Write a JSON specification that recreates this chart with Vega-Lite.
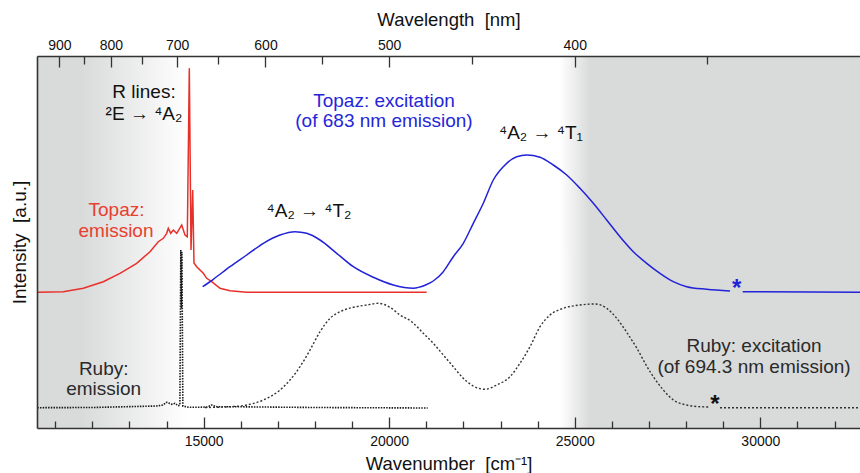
{
  "$schema": "https://vega.github.io/schema/vega-lite/v6.json",
  "width": 823,
  "height": 372,
  "autosize": {"type": "none"},
  "padding": {"left": 37, "top": 56, "right": 0, "bottom": 45},
  "background": "white",
  "config": {
    "font": "Liberation Sans",
    "view": {"stroke": "transparent"},
    "axis": {
      "labelFont": "Liberation Sans", "titleFont": "Liberation Sans",
      "labelFontSize": 14, "labelColor": "#111",
      "titleFontSize": 18.5, "titleFontWeight": "normal", "titleColor": "#111",
      "tickColor": "#333", "tickWidth": 1.3, "domain": false, "grid": false,
      "labelFlush": false, "labelOverlap": false,
      "domainColor": "#333", "domainWidth": 1.6
    }
  },
  "datasets": {
    "red": [
      {"k":10518,"v":135.7},{"k":11219,"v":136.3},{"k":11758,"v":139.7},{"k":12296,"v":146.3},{"k":12746,"v":154.7},{"k":13196,"v":164.7},{"k":13555,"v":176.3},{"k":13778,"v":186.3},{"k":13913,"v":189.7},{"k":14005,"v":194.7},{"k":14048,"v":199.7},{"k":14113,"v":194.7},{"k":14183,"v":198},{"k":14274,"v":194.7},{"k":14409,"v":203},{"k":14498,"v":193},{"k":14560,"v":191.3},{"k":14614,"v":359.7},{"k":14660,"v":178},{"k":14705,"v":238},{"k":14740,"v":165},{"k":14813,"v":161.3},{"k":14991,"v":154.7},{"k":15083,"v":149.7},{"k":15217,"v":146.3},{"k":15441,"v":139.7},{"k":15710,"v":137.3},{"k":16160,"v":135.7},{"k":21010,"v":135.7}
    ],
    "blue": [
      {"k":14975,"v":141.3,"seg":1},{"k":15260,"v":148.7,"seg":1},{"k":15710,"v":161.3,"seg":1},{"k":16160,"v":173,"seg":1},{"k":16608,"v":184.7,"seg":1},{"k":17058,"v":193,"seg":1},{"k":17462,"v":196.3,"seg":1},{"k":17777,"v":194.7,"seg":1},{"k":18136,"v":188,"seg":1},{"k":18586,"v":174.7,"seg":1},{"k":19033,"v":161.3,"seg":1},{"k":19572,"v":150.7,"seg":1},{"k":20110,"v":143,"seg":1},{"k":20649,"v":139.7,"seg":1},{"k":20828,"v":141,"seg":1},{"k":21010,"v":143.5,"seg":1},{"k":21188,"v":147,"seg":1},{"k":21458,"v":156.3,"seg":1},{"k":21727,"v":171.3,"seg":1},{"k":21997,"v":184.7,"seg":1},{"k":22266,"v":204.7,"seg":1},{"k":22536,"v":224.7,"seg":1},{"k":22805,"v":248,"seg":1},{"k":23075,"v":261.3,"seg":1},{"k":23436,"v":271.3,"seg":1},{"k":23705,"v":273,"seg":1},{"k":24064,"v":270.7,"seg":1},{"k":24422,"v":263,"seg":1},{"k":24783,"v":253,"seg":1},{"k":25141,"v":239.7,"seg":1},{"k":25500,"v":224.7,"seg":1},{"k":25861,"v":208,"seg":1},{"k":26219,"v":191.3,"seg":1},{"k":26578,"v":176.3,"seg":1},{"k":26938,"v":164.7,"seg":1},{"k":27296,"v":154.7,"seg":1},{"k":27655,"v":146.3,"seg":1},{"k":28016,"v":141.3,"seg":1},{"k":28555,"v":138.7,"seg":1},{"k":29183,"v":137,"seg":1},
      {"k":29525,"v":136.3,"seg":2},{"k":32686,"v":135.7,"seg":2}
    ],
    "rubyEm": [
      {"k":10518,"v":20.3},{"k":12000,"v":20.5},{"k":13735,"v":22},{"k":13900,"v":23},{"k":14005,"v":25.7},{"k":14140,"v":23.7},{"k":14228,"v":24.7},{"k":14317,"v":22.3},{"k":14360,"v":23},{"k":14385,"v":178},{"k":14400,"v":120},{"k":14415,"v":176},{"k":14440,"v":22},{"k":14600,"v":20.7},{"k":14813,"v":20.7},{"k":15100,"v":21},{"k":15217,"v":23},{"k":15352,"v":21.3},{"k":15710,"v":21.3},{"k":18000,"v":20.5},{"k":21037,"v":20}
    ],
    "rubyEx": [
      {"k":15037,"v":20.5,"seg":1},{"k":15710,"v":21.3,"seg":1},{"k":16160,"v":23,"seg":1},{"k":16608,"v":28,"seg":1},{"k":17058,"v":38,"seg":1},{"k":17327,"v":48,"seg":1},{"k":17597,"v":61.3,"seg":1},{"k":17866,"v":78,"seg":1},{"k":18136,"v":96.3,"seg":1},{"k":18405,"v":109.7,"seg":1},{"k":18674,"v":116.3,"seg":1},{"k":19033,"v":120.7,"seg":1},{"k":19394,"v":123,"seg":1},{"k":19706,"v":124.7,"seg":1},{"k":20021,"v":120.7,"seg":1},{"k":20291,"v":113,"seg":1},{"k":20606,"v":106.3,"seg":1},{"k":20919,"v":94.7,"seg":1},{"k":21188,"v":84.7,"seg":1},{"k":21458,"v":73,"seg":1},{"k":21727,"v":61.3,"seg":1},{"k":21997,"v":49.7,"seg":1},{"k":22266,"v":42,"seg":1},{"k":22581,"v":38.7,"seg":1},{"k":22897,"v":43,"seg":1},{"k":23255,"v":51.3,"seg":1},{"k":23524,"v":64.7,"seg":1},{"k":23794,"v":81.3,"seg":1},{"k":24064,"v":101.3,"seg":1},{"k":24333,"v":113,"seg":1},{"k":24692,"v":119.7,"seg":1},{"k":25141,"v":123,"seg":1},{"k":25546,"v":124,"seg":1},{"k":25861,"v":119.7,"seg":1},{"k":26131,"v":109.7,"seg":1},{"k":26400,"v":95.7,"seg":1},{"k":26669,"v":80,"seg":1},{"k":26938,"v":62,"seg":1},{"k":27117,"v":51.3,"seg":1},{"k":27386,"v":38,"seg":1},{"k":27656,"v":28,"seg":1},{"k":28016,"v":23,"seg":1},{"k":28374,"v":21.3,"seg":1},{"k":28644,"v":21,"seg":1},
      {"k":28914,"v":20.3,"seg":2},{"k":32686,"v":20.3,"seg":2}
    ],
    "blackText": [
      {"k":13393,"v":330,"t":"R lines:"},
      {"k":13393,"v":308,"t":"²E → ⁴A₂"},
      {"k":17839,"v":211,"t":"⁴A₂ → ⁴T₂"},
      {"k":24090,"v":288.7,"t":"⁴A₂ → ⁴T₁"}
    ],
    "redText": [
      {"k":12652,"v":212.3,"t":"Topaz:"},
      {"k":12639,"v":191.3,"t":"emission"}
    ],
    "blueText": [
      {"k":19860,"v":321.3,"t":"Topaz: excitation"},
      {"k":19860,"v":301,"t":"(of 683 nm emission)"}
    ],
    "rubyText": [
      {"k":12307,"v":53,"t":"Ruby:"},
      {"k":12307,"v":33,"t":"emission"},
      {"k":29830,"v":76.3,"t":"Ruby: excitation"},
      {"k":29830,"v":54.7,"t":"(of 694.3 nm emission)"}
    ],
    "blueStar": [{"k":29363,"v":132.3,"t":"*"}],
    "blackStar": [{"k":28779,"v":16,"t":"*"}]
  },
  "resolve": {"axis": {"x": "independent", "y": "independent"}},
  "layer": [
    {
      "data": {"values": [{"k0": 10510, "k1": 14560}]},
      "mark": {"type": "rect", "fill": {"gradient": "linear", "x1": 0, "y1": 0, "x2": 1, "y2": 0, "stops": [{"offset": 0, "color": "#d9dada"}, {"offset": 0.3, "color": "#d9dada"}, {"offset": 1, "color": "#ffffff"}]}},
      "encoding": {
        "x": {"field": "k0", "type": "quantitative", "scale": {"domain": [10510, 32686], "nice": false, "zero": false}, "axis": null},
        "x2": {"field": "k1"}
      }
    },
    {
      "data": {"values": [{"k0": 24600, "k1": 32686}]},
      "mark": {"type": "rect", "fill": {"gradient": "linear", "x1": 0, "y1": 0, "x2": 1, "y2": 0, "stops": [{"offset": 0, "color": "#ffffff"}, {"offset": 0.1, "color": "#d9dada"}, {"offset": 1, "color": "#d9dada"}]}},
      "encoding": {
        "x": {"field": "k0", "type": "quantitative", "scale": {"domain": [10510, 32686], "nice": false, "zero": false}, "axis": null},
        "x2": {"field": "k1"}
      }
    },
    {
      "data": {"name": "rubyEm"},
      "mark": {"type": "line", "color": "#1a1a1a", "strokeWidth": 1.6, "strokeDash": [1.5, 1.2]},
      "encoding": {
        "x": {"field": "k", "type": "quantitative", "scale": {"domain": [10510, 32686], "nice": false, "zero": false},
          "axis": {"orient": "bottom", "values": [15000, 20000, 25000, 30000], "format": "d", "offset": -11, "tickSize": 11, "labelPadding": 6, "title": "Wavenumber\u00a0 [cm⁻¹]", "titlePadding": 6, "domain": false, "zindex": 1}},
        "y": {"field": "v", "type": "quantitative", "scale": {"domain": [0, 372], "nice": false, "zero": false},
          "axis": {"orient": "left", "ticks": false, "labels": false, "domain": true, "title": "Intensity\u00a0 [a.u.]", "titleFontSize": 19, "titlePadding": 8, "zindex": 1}}
      }
    },
    {
      "data": {"name": "rubyEx"},
      "mark": {"type": "line", "color": "#333", "strokeWidth": 1.4, "strokeDash": [2, 2], "interpolate": "monotone"},
      "encoding": {
        "x": {"field": "k", "type": "quantitative", "scale": {"domain": [10510, 32686], "nice": false, "zero": false},
          "axis": {"orient": "bottom", "values": [11000,12000,13000,14000,16000,17000,18000,19000,21000,22000,23000,24000,26000,27000,28000,29000,31000,32000], "offset": -7, "tickSize": 7, "labels": false, "title": null, "zindex": 1}},
        "y": {"field": "v", "type": "quantitative", "scale": {"domain": [0, 372], "nice": false, "zero": false}, "axis": null},
        "detail": {"field": "seg"}
      }
    },
    {
      "data": {"name": "red"},
      "mark": {"type": "line", "color": "#e8302a", "strokeWidth": 1.5},
      "encoding": {
        "x": {"field": "k", "type": "quantitative", "scale": {"domain": [10510, 32686], "nice": false, "zero": false},
          "axis": {"orient": "top", "values": [11111.11, 12500, 14285.71, 16666.67, 20000, 25000], "offset": -11, "tickSize": 11, "labelPadding": 4, "labelExpr": "format(1e7/datum.value, '.0f')", "title": "Wavelength\u00a0 [nm]", "titlePadding": 8.7, "zindex": 1}},
        "y": {"field": "v", "type": "quantitative", "scale": {"domain": [0, 372], "nice": false, "zero": false}, "axis": null}
      }
    },
    {
      "data": {"name": "blue"},
      "mark": {"type": "line", "color": "#2222d8", "strokeWidth": 1.5, "interpolate": "monotone"},
      "encoding": {
        "x": {"field": "k", "type": "quantitative", "scale": {"domain": [10510, 32686], "nice": false, "zero": false},
          "axis": {"orient": "top", "values": [11764.71, 13333.33, 15384.62, 18181.82, 22222.22, 28571.43], "offset": -8, "tickSize": 8, "labels": false, "title": null, "zindex": 1}},
        "y": {"field": "v", "type": "quantitative", "scale": {"domain": [0, 372], "nice": false, "zero": false}, "axis": null},
        "detail": {"field": "seg"}
      }
    },
    {
      "data": {"name": "blackText"},
      "mark": {"type": "text", "fontSize": 19, "color": "#111", "align": "center", "baseline": "alphabetic"},
      "encoding": {
        "x": {"field": "k", "type": "quantitative", "scale": {"domain": [10510, 32686], "nice": false, "zero": false},
          "axis": {"orient": "bottom", "ticks": false, "labels": false, "domain": true, "title": null, "zindex": 1}},
        "y": {"field": "v", "type": "quantitative", "scale": {"domain": [0, 372], "nice": false, "zero": false}, "axis": null},
        "text": {"field": "t"}
      }
    },
    {
      "data": {"name": "redText"},
      "mark": {"type": "text", "fontSize": 19, "color": "#e8402f", "align": "center", "baseline": "alphabetic"},
      "encoding": {
        "x": {"field": "k", "type": "quantitative", "scale": {"domain": [10510, 32686], "nice": false, "zero": false},
          "axis": {"orient": "top", "ticks": false, "labels": false, "domain": true, "title": null, "zindex": 1}},
        "y": {"field": "v", "type": "quantitative", "scale": {"domain": [0, 372], "nice": false, "zero": false}, "axis": null},
        "text": {"field": "t"}
      }
    },
    {
      "data": {"name": "blueText"},
      "mark": {"type": "text", "fontSize": 19, "color": "#2626d8", "align": "center", "baseline": "alphabetic"},
      "encoding": {
        "x": {"field": "k", "type": "quantitative", "scale": {"domain": [10510, 32686], "nice": false, "zero": false}, "axis": null},
        "y": {"field": "v", "type": "quantitative", "scale": {"domain": [0, 372], "nice": false, "zero": false}, "axis": null},
        "text": {"field": "t"}
      }
    },
    {
      "data": {"name": "rubyText"},
      "mark": {"type": "text", "fontSize": 19, "color": "#2a2a2a", "align": "center", "baseline": "alphabetic"},
      "encoding": {
        "x": {"field": "k", "type": "quantitative", "scale": {"domain": [10510, 32686], "nice": false, "zero": false}, "axis": null},
        "y": {"field": "v", "type": "quantitative", "scale": {"domain": [0, 372], "nice": false, "zero": false}, "axis": null},
        "text": {"field": "t"}
      }
    },
    {
      "data": {"name": "blueStar"},
      "mark": {"type": "text", "fontSize": 24, "fontWeight": "bold", "color": "#2222d8", "align": "center", "baseline": "alphabetic"},
      "encoding": {
        "x": {"field": "k", "type": "quantitative", "scale": {"domain": [10510, 32686], "nice": false, "zero": false}, "axis": null},
        "y": {"field": "v", "type": "quantitative", "scale": {"domain": [0, 372], "nice": false, "zero": false}, "axis": null},
        "text": {"field": "t"}
      }
    },
    {
      "data": {"name": "blackStar"},
      "mark": {"type": "text", "fontSize": 24, "fontWeight": "bold", "color": "#111", "align": "center", "baseline": "alphabetic"},
      "encoding": {
        "x": {"field": "k", "type": "quantitative", "scale": {"domain": [10510, 32686], "nice": false, "zero": false}, "axis": null},
        "y": {"field": "v", "type": "quantitative", "scale": {"domain": [0, 372], "nice": false, "zero": false}, "axis": null},
        "text": {"field": "t"}
      }
    }
  ]
}
